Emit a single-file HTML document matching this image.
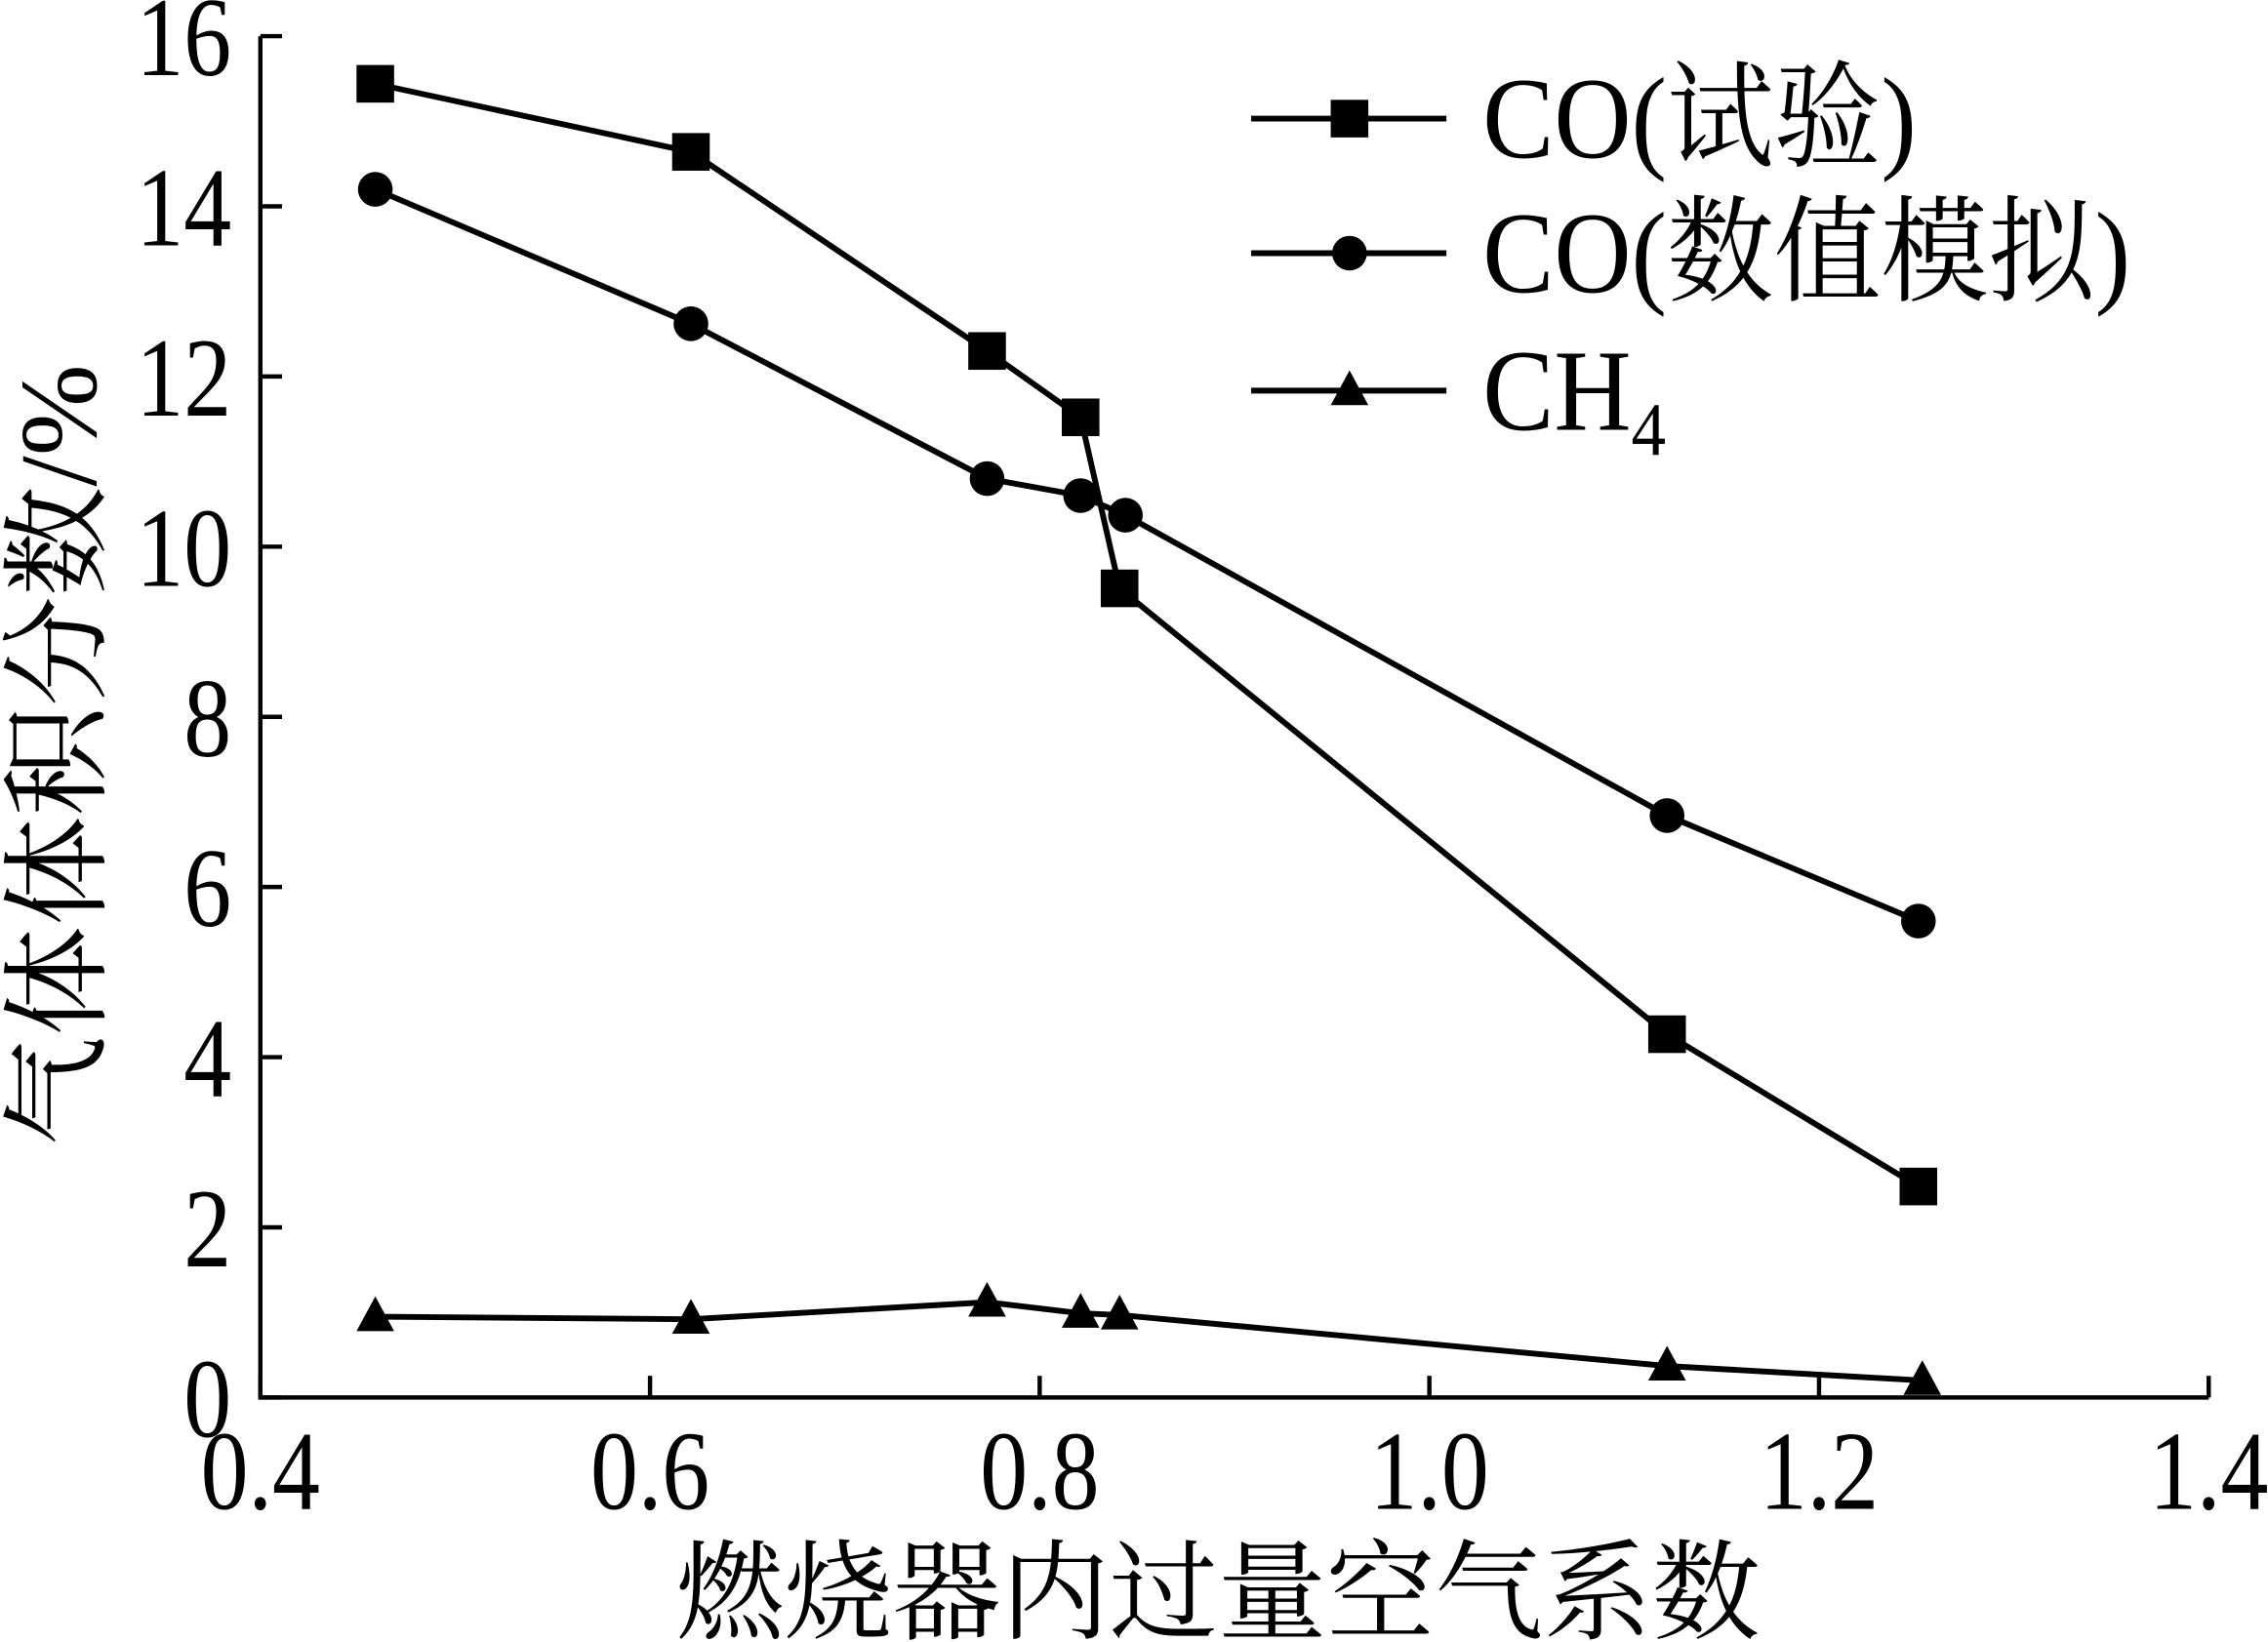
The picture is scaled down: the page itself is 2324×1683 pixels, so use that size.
<!DOCTYPE html>
<html><head><meta charset="utf-8"><style>
html,body{margin:0;padding:0;background:#fff}
svg{display:block}
text{font-family:"Liberation Serif","Noto Serif CJK SC",serif;fill:#000}
</style></head><body>
<svg id="chart" width="2324" height="1683" viewBox="0 0 1568 1135" preserveAspectRatio="none" xmlns="http://www.w3.org/2000/svg">
<g id="axes"></g>
<g id="series"></g>
<g id="legend"></g>
</svg>
<script>
const xTicks=[0.4,0.6,0.8,1.0,1.2,1.4];
const xTickLabels=["0.4","0.6","0.8","1.0","1.2","1.4"];
const yTicks=[0,2,4,6,8,10,12,14,16];
const yTickLabels=["0","2","4","6","8","10","12","14","16"];
const coExpX=[0.459,0.621,0.773,0.821,0.841,1.122,1.251];
const coExpY=[15.44,14.64,12.3,11.52,9.51,4.27,2.48];
const coSimX=[0.459,0.621,0.773,0.821,0.844,1.122,1.251];
const coSimY=[14.2,12.62,10.8,10.6,10.37,6.84,5.6];
const ch4X=[0.459,0.621,0.773,0.821,0.841,1.122,1.253];
const ch4Y=[0.95,0.92,1.12,0.99,0.97,0.37,0.2];
const seriesNames=["CO(试验)","CO(数值模拟)","CH"];

const NS="http://www.w3.org/2000/svg";
const L=180,R=1527,B=966,T=25;
function sx(v){return L+(v-0.4)/1.0*(R-L);}
function sy(v){return B-v/16*(B-T);}
function mk(tag,attrs,parent){const e=document.createElementNS(NS,tag);for(const k in attrs)e.setAttribute(k,attrs[k]);parent.appendChild(e);return e;}
const axes=document.getElementById('axes'),ser=document.getElementById('series'),leg=document.getElementById('legend');

let a=mk('path',{d:`M${L},${T} L${L},${B} L${R},${B}`,fill:'none',stroke:'#000','stroke-width':3},axes);


xTicks.forEach((v,i)=>{
 let t=mk('line',{x1:sx(v),x2:sx(v),y1:B,y2:B-15,stroke:'#000','stroke-width':3},axes);
 
 
 let tx=mk('text',{x:0,y:0,'text-anchor':'middle','font-size':66,transform:`translate(${sx(v)},1043) scale(1,1.18)`},axes);tx.textContent=xTickLabels[i];
 
 
});
yTicks.forEach((v,i)=>{
 let t=mk('line',{x1:L,x2:L+15,y1:sy(v),y2:sy(v),stroke:'#000','stroke-width':3},axes);
 
 
 let tx=mk('text',{x:0,y:0,'text-anchor':'end','font-size':66,transform:`translate(160,${sy(v)+27}) scale(1,1.18)`},axes);tx.textContent=yTickLabels[i];
 
 
});
let xt=mk('text',{x:842,y:1127,'text-anchor':'middle','font-size':75},axes);xt.textContent="燃烧器内过量空气系数";


let yt=mk('text',{x:0,y:0,'text-anchor':'middle','font-size':76,transform:'translate(66,522) rotate(-90)'},axes);yt.textContent="气体体积分数/%";



function marker(type,x,y,g){
 let m;
 if(type==='sq')m=mk('rect',{x:x-13,y:y-13,width:26,height:26,fill:'#000'},g);
 else if(type==='ci')m=mk('circle',{cx:x,cy:y,r:12,fill:'#000'},g);
 else m=mk('path',{d:`M${x},${y-14} L${x+13},${y+10} L${x-13},${y+10} Z`,fill:'#000'},g);
 return m;
}
function drawSeries(xs,ys,type,name){
 const g=mk('g',{},ser);
 
 
 let pl=mk('polyline',{points:xs.map((x,i)=>sx(x)+','+sy(ys[i])).join(' '),fill:'none',stroke:'#000','stroke-width':4},g);
 
 
 xs.forEach((x,i)=>{let m=marker(type,sx(x),sy(ys[i]),g);
  
  });
}
drawSeries(coExpX,coExpY,'sq','co-experiment-series');
drawSeries(coSimX,coSimY,'ci','co-simulation-series');
drawSeries(ch4X,ch4Y,'tr','ch4-series');

const legY=[82,175,270],types=['sq','ci','tr'];
types.forEach((tp,i)=>{
 const g=mk('g',{},leg);
 
 
 mk('line',{x1:865,x2:1000,y1:legY[i],y2:legY[i],stroke:'#000','stroke-width':4},g);
 marker(tp,933,legY[i],g);
 let t=mk('text',{x:0,y:0,'font-size':74,transform:`translate(1025,${legY[i]+27}) scale(1,1.08)`},g);
 t.textContent=seriesNames[i];
 if(i===2){let s=mk('tspan',{'font-size':48,dy:16},t);s.textContent="4";}
});
</script>
</body></html>
